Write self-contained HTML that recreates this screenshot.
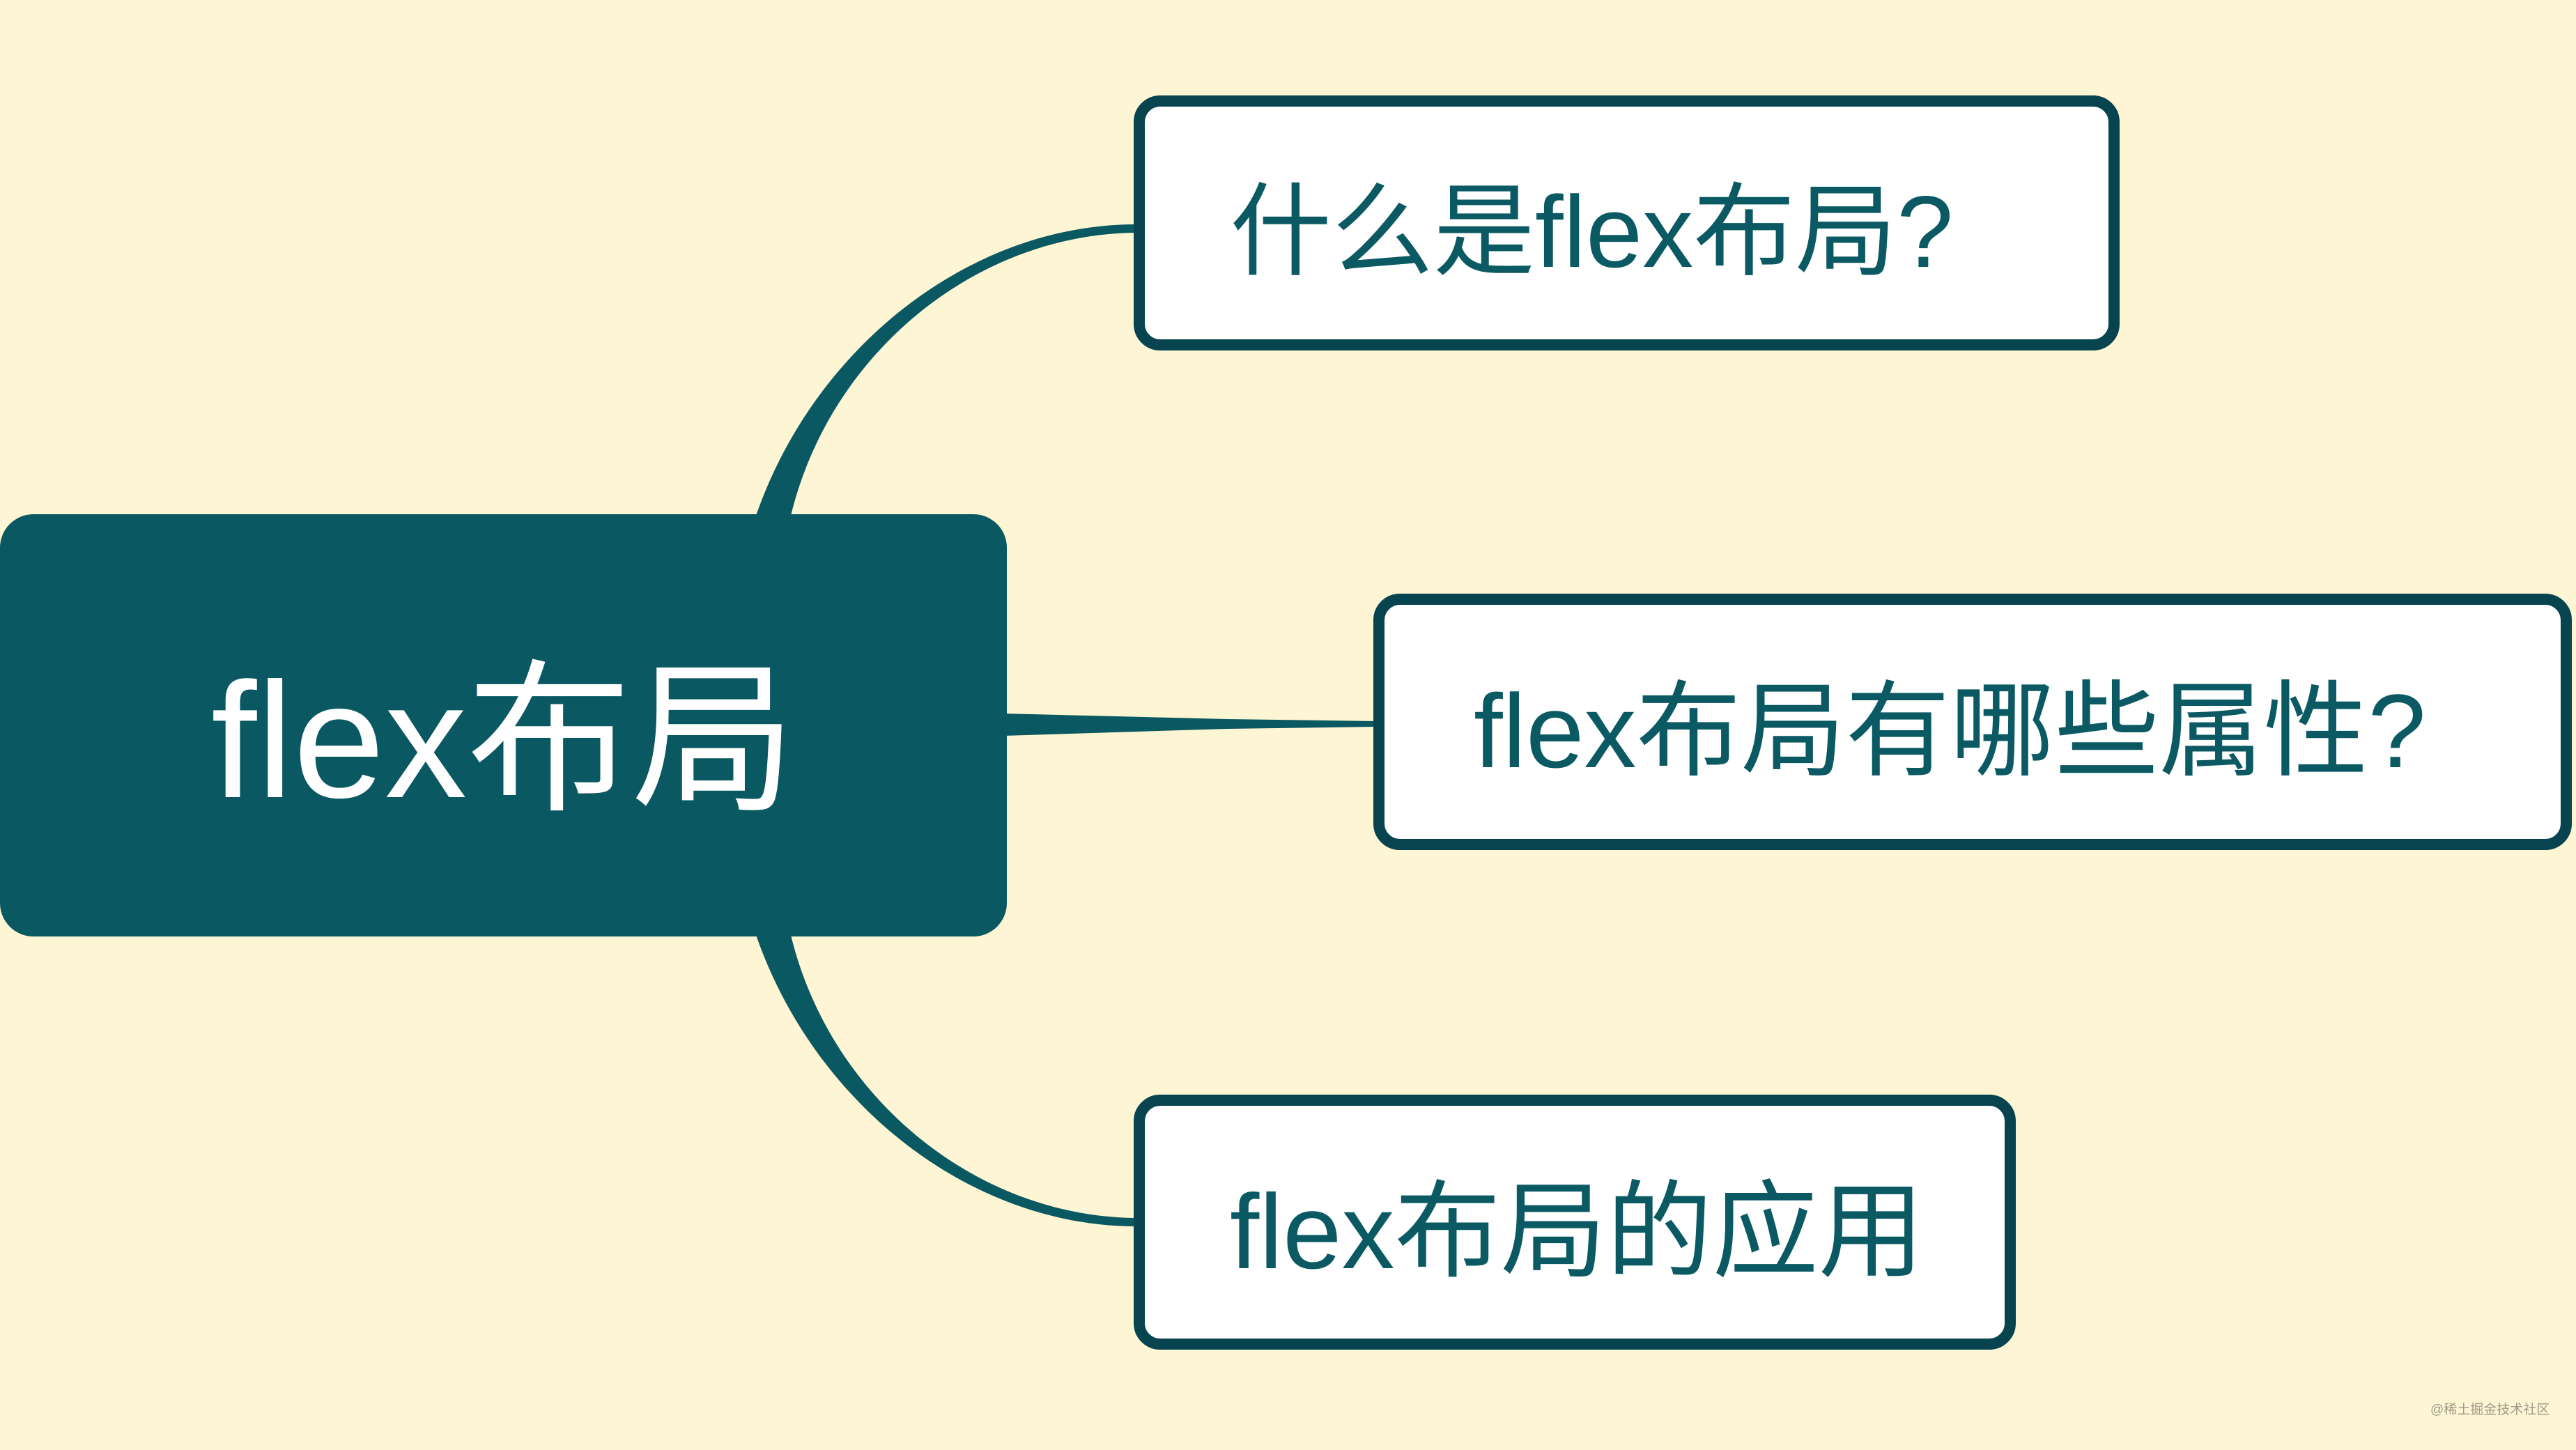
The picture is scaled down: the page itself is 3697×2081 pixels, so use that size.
<!DOCTYPE html>
<html><head><meta charset="utf-8"><style>
html,body{margin:0;padding:0;}
body{width:3697px;height:2081px;background:#fdf5d3;position:relative;overflow:hidden;font-family:"Liberation Sans","Noto Sans CJK SC",sans-serif;}
.box{position:absolute;box-sizing:border-box;background:#fff;border:16px solid #074450;border-radius:38px;display:flex;align-items:center;color:#0b5a63;white-space:nowrap;}
.root{position:absolute;left:0;top:738px;width:1445px;height:606px;background:#0a5862;border-radius:48px;color:#fff;display:flex;align-items:center;justify-content:center;font-size:236px;white-space:nowrap;}
svg{position:absolute;left:0;top:0;}
.wm{position:absolute;left:3488px;top:2008px;font-size:19px;color:#a09a88;}
</style></head><body>
<svg width="3697" height="2081">
<path d="M1085,740 C1170,495 1395,322 1630,322 L1630,334 C1402,336 1192,505 1135,740 Z" fill="#0a5862"/>
<path d="M1085,1342 C1170,1587 1395,1760 1630,1760 L1630,1748 C1402,1746 1192,1577 1135,1342 Z" fill="#0a5862"/>
<path d="M1440,1024 L1760,1032 L1975,1035 L1975,1043 L1760,1046 L1440,1056 Z" fill="#0a5862"/>
</svg>
<div class="root">flex布局</div>
<div class="box" style="left:1627px;top:137px;width:1415px;height:366px;padding-left:122px;font-size:146px;">什么是flex布局?</div>
<div class="box" style="left:1971px;top:852px;width:1720px;height:368px;padding-left:128px;font-size:150px;">flex布局有哪些属性?</div>
<div class="box" style="left:1627px;top:1571px;width:1266px;height:366px;padding-left:122px;font-size:152px;">flex布局的应用</div>
<div class="wm">@稀土掘金技术社区</div>
</body></html>
